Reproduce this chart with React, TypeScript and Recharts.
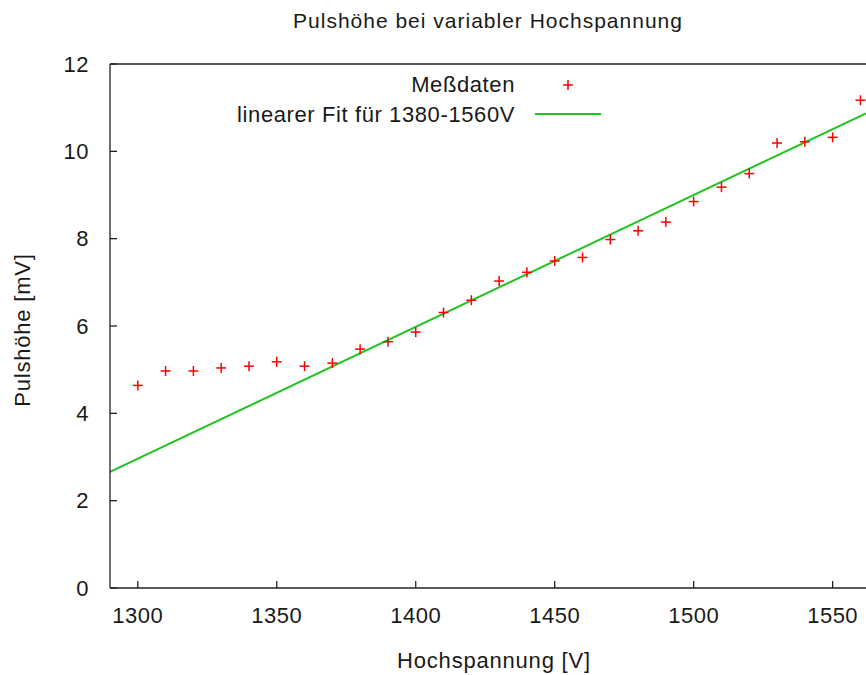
import {
  ComposedChart,
  Scatter,
  Line,
  XAxis,
  YAxis,
  Legend,
  Label,
} from "recharts";

// Messwerte
const voltages = [
  1300, 1310, 1320, 1330, 1340, 1350, 1360, 1370, 1380, 1390, 1400, 1410, 1420,
  1430, 1440, 1450, 1460, 1470, 1480, 1490, 1500, 1510, 1520, 1530, 1540, 1550,
  1560,
];
const pulseHeights = [
  4.64, 4.97, 4.97, 5.04, 5.08, 5.18, 5.08, 5.15, 5.47, 5.64, 5.86, 6.31, 6.59,
  7.03, 7.23, 7.49, 7.57, 7.98, 8.18, 8.38, 8.85, 9.18, 9.49, 10.19, 10.22,
  10.32, 11.17,
];

// linearer Fit (Endpunkte)
const fitVoltages = [1290, 1562];
const fitHeights = [2.66, 10.87];

const xTicks = [1300, 1350, 1400, 1450, 1500, 1550];
const yTicks = [0, 2, 4, 6, 8, 10, 12];

const measured = voltages.map((x, i) => ({ x, y: pulseHeights[i] }));
const fit = fitVoltages.map((x, i) => ({ x, y: fitHeights[i] }));

const FONT = "'Liberation Sans', Arial, sans-serif";
const TEXT = "#1a1a1a";
const AXIS = "#222";

const Cross = (props: any) => {
  const { cx, cy } = props;
  if (cx == null || cy == null) return null;
  const s = 5;
  return (
    <g stroke="#ff0000" strokeWidth={1.5}>
      <line x1={cx - s} y1={cy} x2={cx + s} y2={cy} />
      <line x1={cx} y1={cy - s} x2={cx} y2={cy + s} />
    </g>
  );
};

const KeyBox = () => (
  <div style={{ fontFamily: FONT, fontSize: 22, color: TEXT, letterSpacing: 0.6 }}>
    <div style={{ display: "flex", alignItems: "center", height: 30 }}>
      <span style={{ width: 300, textAlign: "right" }}>Meßdaten</span>
      <svg width={86} height={30}>
        <g stroke="#ff0000" strokeWidth={1.5}>
          <line x1={48} y1={15} x2={58} y2={15} />
          <line x1={53} y1={10} x2={53} y2={20} />
        </g>
      </svg>
    </div>
    <div style={{ display: "flex", alignItems: "center", height: 30 }}>
      <span style={{ width: 300, textAlign: "right" }}>
        linearer Fit für 1380-1560V
      </span>
      <svg width={86} height={30}>
        <line x1={20} y1={14} x2={86} y2={14} stroke="#22c322" strokeWidth={2} />
      </svg>
    </div>
  </div>
);

const tickStyle = { fontFamily: FONT, fontSize: 22, fill: TEXT, letterSpacing: 0.5 };
const labelStyle = { fontFamily: FONT, fontSize: 22, fill: TEXT, letterSpacing: 0.8 };

const App = () => {
  return (
    <div
      style={{
        position: "absolute",
        left: 0,
        top: 0,
        width: 866,
        height: 675,
        overflow: "hidden",
        background: "#fff",
      }}
    >
      <ComposedChart
        width={866}
        height={675}
        margin={{ top: 63, right: 0, bottom: 7, left: 40 }}
      >
        <XAxis
          dataKey="x"
          type="number"
          domain={[1290, 1562]}
          allowDataOverflow
          ticks={xTicks}
          interval={0}
          height={80}
          tickSize={-7}
          tickMargin={26}
          tick={tickStyle}
          axisLine={{ stroke: AXIS, strokeWidth: 1.3 }}
          tickLine={{ stroke: AXIS, strokeWidth: 1.3 }}
        >
          <Label
            content={() => (
              <text x={494} y={668} textAnchor="middle" style={labelStyle}>
                Hochspannung [V]
              </text>
            )}
          />
        </XAxis>
        <XAxis
          xAxisId="top"
          dataKey="x"
          type="number"
          orientation="top"
          domain={[1290, 1562]}
          allowDataOverflow
          ticks={xTicks}
          interval={0}
          height={1}
          tickSize={-7}
          tick={false}
          axisLine={{ stroke: AXIS, strokeWidth: 1.3 }}
          tickLine={{ stroke: AXIS, strokeWidth: 1.3 }}
        >
          <Label
            content={() => (
              <text
                x={488}
                y={20}
                textAnchor="middle"
                dominantBaseline="central"
                style={{ fontFamily: FONT, fontSize: 21, fill: TEXT, letterSpacing: 1 }}
              >
                Pulshöhe bei variabler Hochspannung
              </text>
            )}
          />
        </XAxis>
        <YAxis
          dataKey="y"
          type="number"
          domain={[0, 12]}
          ticks={yTicks}
          interval={0}
          width={70}
          tickSize={-7}
          tickMargin={28}
          tick={tickStyle}
          axisLine={{ stroke: AXIS, strokeWidth: 1.3 }}
          tickLine={{ stroke: AXIS, strokeWidth: 1.3 }}
        >
          <Label
            content={() => (
              <text
                x={22}
                y={330}
                transform="rotate(-90 22 330)"
                textAnchor="middle"
                dominantBaseline="central"
                style={labelStyle}
              >
                Pulshöhe [mV]
              </text>
            )}
          />
        </YAxis>
        <Legend
          layout="horizontal"
          verticalAlign="middle"
          align="center"
          content={() => <KeyBox />}
          wrapperStyle={{ position: "absolute", left: 215, top: 70, width: 400 }}
        />
        <Line
          data={fit}
          dataKey="y"
          stroke="#22c322"
          strokeWidth={2}
          dot={false}
          activeDot={false}
          legendType="none"
          isAnimationActive={false}
        />
        <Scatter
          data={measured}
          dataKey="y"
          shape={<Cross />}
          isAnimationActive={false}
        />
        {/* unsichtbare Serie, damit die obere Achse gezeichnet wird */}
        <Scatter
          xAxisId="top"
          data={measured}
          dataKey="y"
          shape={() => null}
          legendType="none"
          isAnimationActive={false}
        />
      </ComposedChart>
    </div>
  );
};

export default App;
